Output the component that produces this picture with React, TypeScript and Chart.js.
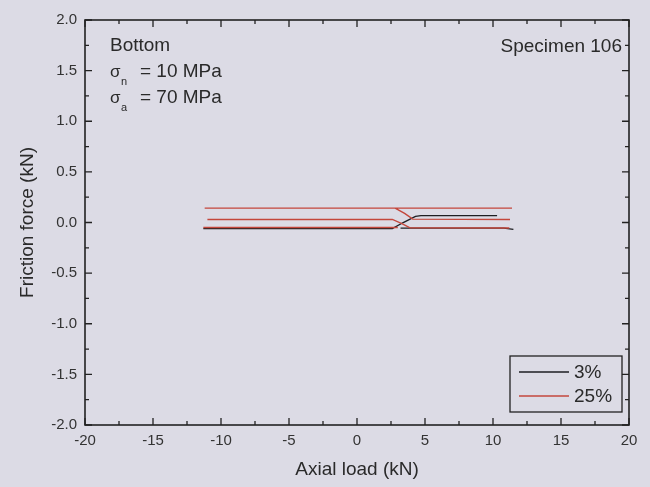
import React, { useEffect, useRef } from "react";
import { Chart, registerables } from "chart.js";

Chart.register(...registerables);

// ---- data ----
const xTickValues = [-20, -15, -10, -5, 0, 5, 10, 15, 20];
const yTickValues = [-2.0, -1.5, -1.0, -0.5, 0.0, 0.5, 1.0, 1.5, 2.0];
const seriesLabels = ["3%", "25%"];
const seriesColors = ["#1e1e22", "#c4473c"];

// 3% series (null = break in the line)
const s3X = [-11.3, 2.6, 3.4, 4.3, 4.7, 10.3, null, 3.2, 10.8, 11.5];
const s3Y = [-0.06, -0.06, 0.0, 0.06, 0.068, 0.068, null, -0.056, -0.056, -0.068];

// 25% series (null = break in the line)
const s25X = [-11.2, 11.4, null, 2.8, 3.5, 4.1, 11.25, null, -11.0, 2.6, 3.3, 3.9, 11.2, null, -11.3, 3.0];
const s25Y = [0.142, 0.142, null, 0.142, 0.09, 0.033, 0.03, null, 0.03, 0.03, -0.01, -0.053, -0.055, null, -0.05, -0.05];

const annotations = ["Bottom", "Specimen 106"];
const xTitle = "Axial load (kN)";
const yTitle = "Friction force (kN)";

const BG = "#dcdbe5";
const FONT = "'Liberation Sans', Arial, sans-serif";

function toPoints(xs: (number | null)[], ys: (number | null)[]) {
  return xs.map((x, i) => ({ x: x === null ? (xs[i - 1] as number) : x, y: ys[i] }));
}

const bgPlugin = {
  id: "bg",
  beforeDraw(chart: any) {
    const ctx = chart.ctx;
    ctx.save();
    ctx.fillStyle = BG;
    ctx.fillRect(0, 0, chart.width, chart.height);
    ctx.restore();
  },
};

const framePlugin = {
  id: "frame",
  afterDraw(chart: any) {
    const ctx = chart.ctx;
    const { left, right, top, bottom } = chart.chartArea;
    const xs = chart.scales.x;
    const ys = chart.scales.y;
    ctx.save();
    ctx.strokeStyle = "#222";
    ctx.lineWidth = 1.6;
    ctx.strokeRect(left, top, right - left, bottom - top);
    ctx.lineWidth = 1.3;
    const major = 7;
    const minor = 4;
    // x ticks
    for (let v = -20; v <= 20 + 1e-9; v += 2.5) {
      const px = xs.getPixelForValue(v);
      const len = Math.abs(v % 5) < 1e-9 ? major : minor;
      ctx.beginPath();
      ctx.moveTo(px, bottom);
      ctx.lineTo(px, bottom - len);
      ctx.moveTo(px, top);
      ctx.lineTo(px, top + len);
      ctx.stroke();
    }
    for (let i = -8; i <= 8; i++) {
      const v = i * 0.25;
      const py = ys.getPixelForValue(v);
      const len = i % 2 === 0 ? major : minor;
      ctx.beginPath();
      ctx.moveTo(left, py);
      ctx.lineTo(left + len, py);
      ctx.moveTo(right, py);
      ctx.lineTo(right - len, py);
      ctx.stroke();
    }

    // annotations
    ctx.fillStyle = "#2a2a2a";
    ctx.textBaseline = "middle";
    ctx.font = `19px ${FONT}`;
    ctx.textAlign = "left";
    const ax = left + 25;
    ctx.fillText(annotations[0], ax, top + 26);
    ctx.textAlign = "right";
    ctx.fillText(annotations[1], right - 7, top + 27);
    ctx.textAlign = "left";
    const sigRows = [
      { sub: "n", text: "= 10 MPa", y: top + 52 },
      { sub: "a", text: "= 70 MPa", y: top + 78 },
    ];
    sigRows.forEach((r) => {
      ctx.font = `17px ${FONT}`;
      ctx.fillText("\u03c3", ax, r.y);
      ctx.font = `11px ${FONT}`;
      ctx.fillText(r.sub, ax + 11, r.y + 10);
      ctx.font = `19px ${FONT}`;
      ctx.fillText(r.text, ax + 30, r.y);
    });

    // legend
    const bw = 112;
    const bh = 56;
    const bx = right - 7 - bw;
    const by = bottom - 13 - bh;
    ctx.lineWidth = 1.3;
    ctx.strokeStyle = "#222";
    ctx.strokeRect(bx, by, bw, bh);
    chart.data.datasets.forEach((ds: any, i: number) => {
      const ly = by + 16 + i * 24;
      ctx.strokeStyle = ds.borderColor;
      ctx.lineWidth = 1.4;
      ctx.beginPath();
      ctx.moveTo(bx + 9, ly);
      ctx.lineTo(bx + 59, ly);
      ctx.stroke();
      ctx.fillStyle = "#2a2a2a";
      ctx.font = `19px ${FONT}`;
      ctx.textAlign = "left";
      ctx.fillText(ds.label, bx + 64, ly + 1);
    });
    ctx.restore();
  },
};

export default function App() {
  const ref = useRef<HTMLCanvasElement>(null);
  useEffect(() => {
    document.body.style.margin = "0";
    document.body.style.background = BG;
    const chart = new Chart(ref.current as HTMLCanvasElement, {
      type: "line",
      data: {
        datasets: [
          {
            label: seriesLabels[0],
            data: toPoints(s3X, s3Y) as any,
            borderColor: seriesColors[0],
            borderWidth: 1.4,
            pointRadius: 0,
            spanGaps: false,
            order: 1,
          },
          {
            label: seriesLabels[1],
            data: toPoints(s25X, s25Y) as any,
            borderColor: seriesColors[1],
            borderWidth: 1.4,
            pointRadius: 0,
            spanGaps: false,
            order: 0,
          },
        ],
      },
      options: {
        animation: false,
        responsive: false,
        events: [],
        layout: { padding: { left: 0, right: 21, top: 20, bottom: 0 } },
        plugins: { legend: { display: false }, tooltip: { enabled: false } },
        scales: {
          x: {
            type: "linear",
            min: -20,
            max: 20,
            grid: { display: false, drawTicks: false },
            border: { display: false },
            afterBuildTicks: (s: any) => {
              s.ticks = xTickValues.map((v) => ({ value: v }));
            },
            ticks: {
              padding: 7,
              color: "#333",
              font: { family: FONT, size: 15 },
              maxRotation: 0,
              callback: (v: any) => String(v),
            },
            title: {
              display: true,
              text: xTitle,
              color: "#2a2a2a",
              font: { family: FONT, size: 19 },
              padding: { top: 0, bottom: 6 },
            },
            afterFit: (s: any) => {
              s.height = 62;
              s.paddingLeft = 0;
              s.paddingRight = 0;
            },
          },
          y: {
            type: "linear",
            min: -2,
            max: 2,
            grid: { display: false, drawTicks: false },
            border: { display: false },
            afterBuildTicks: (s: any) => {
              s.ticks = yTickValues.map((v) => ({ value: v }));
            },
            ticks: {
              padding: 8,
              color: "#333",
              font: { family: FONT, size: 15 },
              callback: (v: any) => Number(v).toFixed(1),
            },
            title: {
              display: true,
              text: yTitle,
              color: "#2a2a2a",
              font: { family: FONT, size: 19 },
              padding: { top: 16, bottom: 0 },
            },
            afterFit: (s: any) => {
              s.width = 85;
              s.paddingTop = 0;
              s.paddingBottom = 0;
            },
          },
        },
      } as any,
      plugins: [bgPlugin, framePlugin],
    });
    return () => chart.destroy();
  }, []);
  return (
    <div style={{ position: "fixed", left: 0, top: 0, width: 650, height: 487, background: BG }}>
      <canvas ref={ref} width={650} height={487} />
    </div>
  );
}
